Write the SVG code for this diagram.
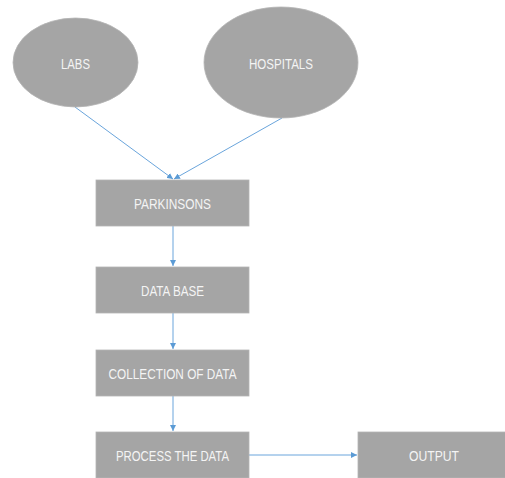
<svg xmlns="http://www.w3.org/2000/svg" width="505" height="478" viewBox="0 0 505 478">
<style>
.n{fill:#a5a5a5;stroke:#b4b4b4;stroke-width:0.8}
.t{font-family:"Liberation Sans",Arial,sans-serif;font-size:15px;fill:#f4f4f4;text-anchor:middle}
.c{stroke:#6aa5dc;stroke-width:1;fill:none;marker-end:url(#ah)}
</style>
<defs>
<marker id="ah" viewBox="0 0 6 6" refX="6" refY="3" markerWidth="6" markerHeight="6" markerUnits="userSpaceOnUse" orient="auto">
<path d="M0,0 L6,3 L0,6 z" fill="#5b9bd5"/>
</marker>
</defs>
<g id="connectors">
<line class="c" x1="75" y1="107" x2="173" y2="179"/>
<line class="c" x1="282" y1="118" x2="174" y2="179"/>
<line class="c" x1="173" y1="226" x2="173" y2="266"/>
<line class="c" x1="173" y1="313" x2="173" y2="349"/>
<line class="c" x1="173" y1="396" x2="173" y2="431"/>
<line class="c" x1="249" y1="455" x2="357" y2="455"/>
</g>
<g id="labs">
<ellipse class="n" cx="75.5" cy="62.5" rx="62.5" ry="44.5"/>
<text class="t" x="75.5" y="68.5" textLength="29" lengthAdjust="spacingAndGlyphs">LABS</text>
</g>
<g id="hospitals">
<ellipse class="n" cx="281" cy="62.5" rx="77" ry="55.5"/>
<text class="t" x="281" y="68.5" textLength="64" lengthAdjust="spacingAndGlyphs">HOSPITALS</text>
</g>
<g id="parkinsons">
<rect class="n" x="96" y="180" width="153" height="46"/>
<text class="t" x="172.5" y="208.5" textLength="77" lengthAdjust="spacingAndGlyphs">PARKINSONS</text>
</g>
<g id="database">
<rect class="n" x="96" y="267" width="153" height="46"/>
<text class="t" x="172.5" y="295.5" textLength="63" lengthAdjust="spacingAndGlyphs">DATA BASE</text>
</g>
<g id="collection">
<rect class="n" x="96" y="350" width="153" height="46"/>
<text class="t" x="172.5" y="378.5" textLength="128" lengthAdjust="spacingAndGlyphs">COLLECTION OF DATA</text>
</g>
<g id="process">
<rect class="n" x="96" y="432" width="153" height="46"/>
<text class="t" x="172.5" y="460.5" textLength="113" lengthAdjust="spacingAndGlyphs">PROCESS THE DATA</text>
</g>
<g id="output">
<rect class="n" x="358" y="432" width="150" height="46"/>
<text class="t" x="434" y="460.5" textLength="50" lengthAdjust="spacingAndGlyphs">OUTPUT</text>
</g>
</svg>
